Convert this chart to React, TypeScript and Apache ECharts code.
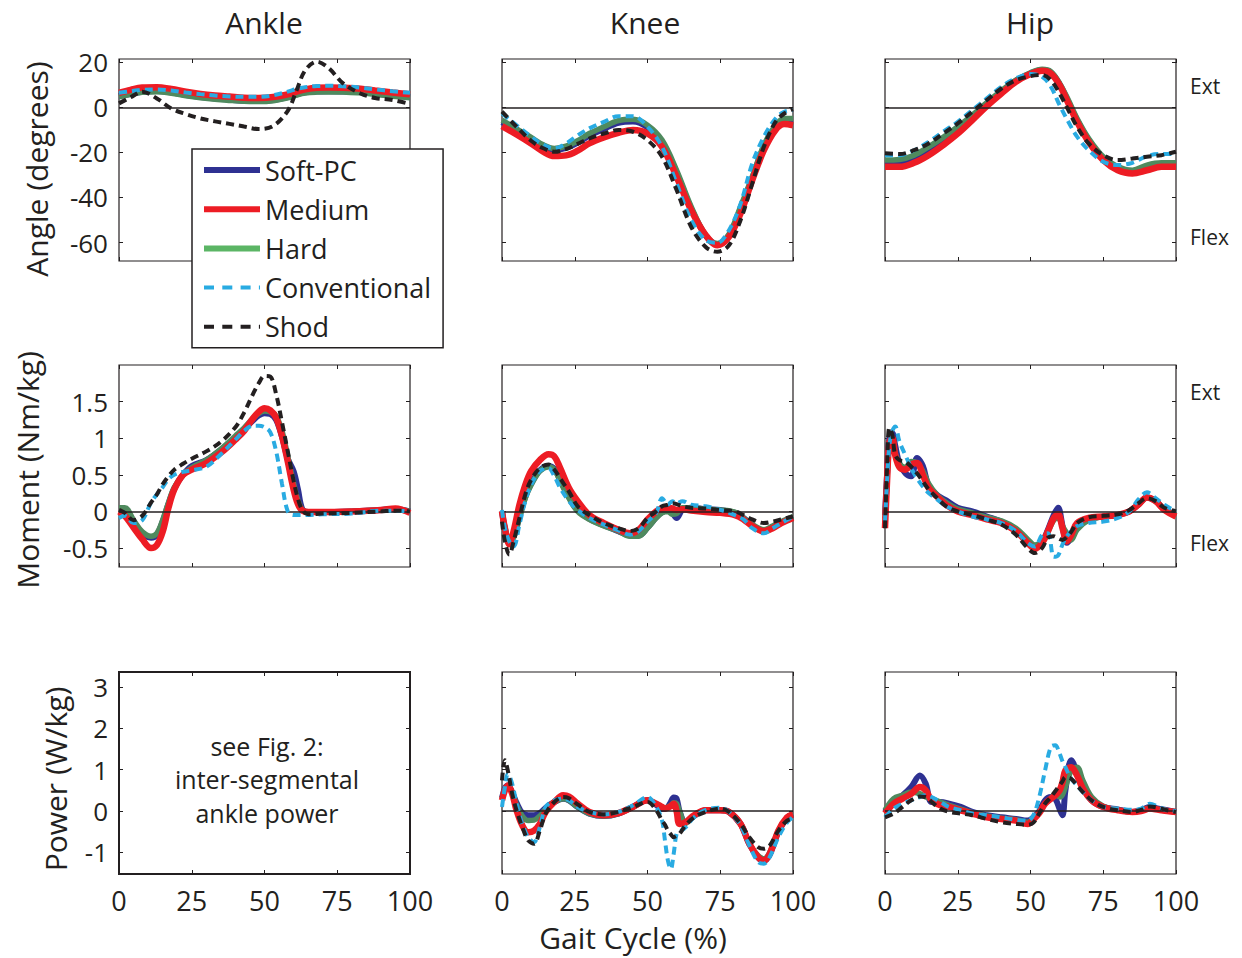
import React, { useEffect, useRef } from "react";
import * as echarts from "echarts";

const FONT = '"Open Sans", "Noto Sans", sans-serif';
const INK = "#231F20";

// ---------- Data ----------
// Ankle angle (deg)
const ankleAngleX = [0, 4, 8, 13, 18, 23, 28, 33, 38, 43, 48, 53, 58, 61, 64, 68, 72, 77, 83, 88, 94, 100];
const ankleAngleSoft = [5, 6, 7, 7.3, 6.6, 5.5, 4.6, 3.9, 3.4, 3, 2.9, 3.3, 4.6, 5.8, 6.7, 7.1, 7.2, 7.1, 6.8, 6.1, 5.3, 4.6];
const ankleAngleMedium = [6.5, 7.8, 8.8, 9, 8.2, 7, 6, 5.3, 4.8, 4.3, 4.2, 4.6, 5.8, 7, 8, 8.7, 8.8, 8.7, 8.3, 7.5, 6.6, 5.8];
const ankleAngleHard = [4.7, 5.8, 6.7, 7, 6.3, 5.2, 4.3, 3.6, 3.1, 2.7, 2.6, 3, 4.3, 5.5, 6.4, 6.8, 6.9, 6.8, 6.5, 5.8, 5, 4.3];
const ankleAngleConv = [6.5, 7.2, 7.8, 8, 7.5, 6.6, 5.9, 5.3, 4.9, 4.7, 4.7, 5.4, 7, 8.2, 9, 9.5, 9.6, 9.4, 8.8, 8, 7.2, 6.5];
const ankleAngleShod = [1.8, 4.5, 7, 4, -0.5, -3, -4.9, -6.2, -7.3, -8.5, -9.6, -8.2, -1.5, 7.5, 16.5, 20.3, 17.5, 10.7, 6.2, 4.2, 3.3, 1.5];

// Knee angle (deg)
const kneeAngleX = [0, 5, 10, 14, 18, 22, 26, 30, 35, 40, 45, 50, 55, 60, 65, 70, 74, 78, 82, 86, 90, 94, 97, 100];
const kneeAngleSoft = [-6.5, -10.2, -14, -17.2, -19, -18, -15.6, -12.5, -9.5, -6.8, -6.2, -8.8, -15.5, -29, -45, -57, -60.8, -56.8, -45, -31.5, -17.5, -8.7, -5.8, -5.8];
const kneeAngleMedium = [-8.3, -12, -16, -19.5, -21.6, -21.3, -19.2, -16, -13.3, -11.3, -10, -11.6, -17.5, -30.8, -45.6, -56.7, -61.2, -57.5, -47, -32.3, -19, -10, -7.4, -7.9];
const kneeAngleHard = [-5.6, -9.5, -13.3, -16.5, -18.2, -17.2, -14.8, -11.6, -8.6, -5.9, -5.3, -7.9, -14.5, -27.9, -44, -56.7, -60.4, -56.3, -44, -30.8, -16.7, -7.9, -4.9, -4.9];
const kneeAngleConv = [-2.7, -7.9, -13, -16.5, -18.2, -16, -12.4, -9.3, -6.4, -3.9, -3.9, -8.6, -17.5, -33.8, -50, -59, -60.1, -54.5, -42.7, -24.9, -13, -4.9, -1.9, -1.2];
const kneeAngleShod = [-1.9, -8.6, -14.8, -18, -19.7, -18.5, -16.2, -13.8, -11.6, -10, -10.8, -14.5, -21.9, -36.7, -53, -62, -64.1, -61.2, -50, -33.8, -17.5, -6.4, -2.7, -0.9];

// Hip angle (deg)
const hipAngleX = [0, 5, 10, 15, 20, 25, 30, 35, 40, 45, 50, 54, 57, 60, 63, 66, 70, 75, 80, 85, 90, 95, 100];
const hipAngleSoft = [-25, -24.8, -23, -19.4, -15, -10, -4.5, 1.3, 6.8, 11.8, 15.1, 16.6, 15.5, 10.3, 2.5, -5.6, -14.5, -22.6, -27.1, -28.6, -26.8, -25.5, -25.5];
const hipAngleMedium = [-26.4, -26.4, -24.6, -21.2, -16.7, -11.6, -5.6, 0.6, 6.2, 11.4, 14.8, 16.3, 15.1, 9.9, 1.8, -6.4, -15.3, -23.4, -27.9, -29.3, -27.9, -26.4, -26.4];
const hipAngleHard = [-23.4, -23.1, -21.2, -17.5, -13.3, -8.6, -3.4, 2.1, 7.4, 12.1, 15.4, 16.9, 15.9, 10.7, 3.3, -4.9, -13.8, -21.9, -26.4, -27.9, -25.6, -24.6, -24.6];
const hipAngleConv = [-21.2, -21.2, -19, -15.3, -10.8, -6.4, -1.2, 4, 9.2, 12.9, 14.8, 13.6, 9.2, 1, -6.4, -13, -19, -24.1, -25.6, -24.6, -21.6, -20.7, -20.7];
const hipAngleShod = [-20.4, -20.7, -19, -16, -11.6, -7.1, -1.9, 3.3, 8.4, 12.1, 13.9, 14.4, 12.1, 6.2, -1.2, -8.6, -16, -21.2, -23.4, -22.7, -21.9, -21.2, -19.7];

// Ankle moment (Nm/kg)
const ankleMomentX = [0, 2, 5, 8, 11, 13, 15, 17, 19, 22, 25, 30, 35, 40, 43, 46, 48, 50, 52, 54, 56, 58, 60, 61.5, 63, 65, 70, 80, 90, 95, 100];
const ankleMomentSoft = [0.02, 0.02, -0.14, -0.3, -0.36, -0.32, -0.14, 0.1, 0.31, 0.5, 0.62, 0.7, 0.84, 1.01, 1.12, 1.24, 1.31, 1.34, 1.33, 1.25, 1.02, 0.72, 0.55, 0.3, 0.03, -0.01, -0.01, 0, 0.02, 0.03, 0];
const ankleMomentMedium = [0, -0.06, -0.22, -0.38, -0.5, -0.46, -0.28, 0.05, 0.3, 0.5, 0.57, 0.66, 0.8, 0.98, 1.1, 1.27, 1.36, 1.41, 1.38, 1.28, 1.03, 0.68, 0.3, 0.1, 0.01, -0.01, -0.01, 0, 0.02, 0.04, -0.02];
const ankleMomentHard = [0.05, 0.05, -0.12, -0.28, -0.34, -0.3, -0.12, 0.12, 0.33, 0.5, 0.6, 0.7, 0.85, 1.03, 1.14, 1.27, 1.34, 1.37, 1.36, 1.3, 1.1, 0.75, 0.38, 0.15, 0.02, -0.01, -0.01, 0, 0.02, 0.03, 0];
const ankleMomentConv = [-0.09, -0.06, -0.16, -0.12, 0.12, 0.23, 0.33, 0.44, 0.5, 0.54, 0.56, 0.61, 0.78, 0.98, 1.1, 1.17, 1.17, 1.15, 1.08, 0.82, 0.38, 0, -0.05, -0.05, -0.05, -0.05, -0.04, -0.03, 0.01, 0.01, 0];
const ankleMomentShod = [0.02, -0.02, -0.12, -0.06, 0.12, 0.23, 0.37, 0.48, 0.57, 0.65, 0.72, 0.82, 0.95, 1.15, 1.35, 1.6, 1.75, 1.85, 1.84, 1.6, 1.22, 0.82, 0.42, 0.17, 0.02, -0.04, -0.03, -0.02, 0, 0.01, 0];

// Knee moment (Nm/kg)
const kneeMomentX = [0, 1, 2.5, 4, 6, 8, 10, 13, 16, 18, 20, 23, 26, 30, 35, 40, 44, 47, 50, 53, 55, 57, 58.5, 60, 62, 65, 70, 75, 80, 83, 86, 90, 93, 96, 100];
const kneeMomentSoft = [0, -0.23, -0.42, -0.34, -0.07, 0.2, 0.38, 0.56, 0.62, 0.58, 0.43, 0.2, 0.02, -0.1, -0.19, -0.27, -0.33, -0.33, -0.22, -0.08, -0.01, 0.02, -0.02, -0.09, 0.02, 0.05, 0.03, 0.02, -0.02, -0.09, -0.19, -0.27, -0.22, -0.15, -0.08];
const kneeMomentMedium = [0, -0.23, -0.45, -0.27, 0.09, 0.36, 0.55, 0.7, 0.78, 0.75, 0.59, 0.32, 0.14, -0.05, -0.16, -0.25, -0.3, -0.25, -0.11, 0, 0.04, 0.05, 0.04, 0.02, 0.03, 0.01, -0.01, -0.02, -0.05, -0.11, -0.2, -0.27, -0.23, -0.16, -0.09];
const kneeMomentHard = [0, -0.23, -0.41, -0.36, -0.09, 0.18, 0.36, 0.55, 0.61, 0.57, 0.41, 0.18, 0, -0.11, -0.2, -0.27, -0.34, -0.34, -0.23, -0.09, -0.02, 0, -0.04, -0.03, 0.05, 0.05, 0.03, 0.02, -0.01, -0.09, -0.18, -0.25, -0.2, -0.14, -0.07];
const kneeMomentConv = [0.02, -0.23, -0.41, -0.48, -0.18, 0.14, 0.36, 0.55, 0.59, 0.48, 0.32, 0.14, 0.02, -0.09, -0.18, -0.26, -0.32, -0.27, -0.14, -0.02, 0.18, 0.09, 0.14, 0.11, 0.14, 0.09, 0.07, 0.02, -0.05, -0.11, -0.23, -0.3, -0.23, -0.16, -0.07];
const kneeMomentShod = [-0.14, -0.41, -0.59, -0.41, -0.09, 0.23, 0.43, 0.59, 0.64, 0.57, 0.45, 0.27, 0.07, -0.05, -0.16, -0.23, -0.27, -0.23, -0.09, 0, 0.07, 0.09, 0.11, 0.1, 0.07, 0.05, 0.04, 0.02, 0, -0.05, -0.11, -0.16, -0.14, -0.11, -0.07];

// Hip moment (Nm/kg)
const hipMomentX = [0, 0.7, 1.5, 2.5, 3.5, 5, 7, 9, 11, 13, 15, 18, 21, 25, 30, 35, 40, 45, 49, 51.5, 54, 56, 58, 59.5, 61, 62.5, 64, 66, 70, 75, 80, 84, 87, 90, 93, 96, 100];
const hipMomentSoft = [-0.05, 0.5, 1.0, 1.07, 0.9, 0.65, 0.52, 0.48, 0.73, 0.62, 0.35, 0.22, 0.15, 0.05, 0, -0.07, -0.14, -0.25, -0.4, -0.48, -0.42, -0.25, -0.05, 0.05, -0.2, -0.43, -0.36, -0.2, -0.1, -0.07, -0.05, 0, 0.09, 0.19, 0.14, 0.03, -0.05];
const hipMomentMedium = [-0.23, 0.41, 0.95, 1.0, 0.77, 0.6, 0.57, 0.64, 0.66, 0.5, 0.32, 0.2, 0.09, 0, -0.05, -0.11, -0.16, -0.27, -0.43, -0.51, -0.43, -0.27, -0.09, -0.04, -0.23, -0.41, -0.32, -0.16, -0.09, -0.07, -0.05, 0, 0.09, 0.19, 0.14, 0.02, -0.07];
const hipMomentHard = [-0.1, 0.45, 0.95, 0.98, 0.8, 0.65, 0.6, 0.68, 0.66, 0.55, 0.38, 0.22, 0.12, 0.03, -0.02, -0.08, -0.13, -0.23, -0.38, -0.46, -0.42, -0.28, -0.12, -0.09, -0.2, -0.3, -0.39, -0.25, -0.12, -0.07, -0.05, 0, 0.09, 0.19, 0.14, 0.03, -0.05];
const hipMomentConv = [-0.14, 0.4, 0.9, 1.1, 1.16, 0.95, 0.77, 0.59, 0.45, 0.34, 0.25, 0.16, 0.07, 0, -0.07, -0.11, -0.16, -0.27, -0.43, -0.48, -0.32, -0.3, -0.62, -0.6, -0.45, -0.34, -0.27, -0.2, -0.16, -0.14, -0.09, 0, 0.16, 0.26, 0.18, 0.09, 0];
const hipMomentShod = [-0.23, 0.59, 1.14, 1.05, 0.77, 0.7, 0.68, 0.61, 0.52, 0.41, 0.3, 0.18, 0.07, 0, -0.05, -0.11, -0.18, -0.32, -0.5, -0.57, -0.5, -0.36, -0.34, -0.37, -0.39, -0.35, -0.28, -0.16, -0.08, -0.06, -0.04, 0.02, 0.11, 0.18, 0.14, 0.05, 0];

// Knee power (W/kg)
const kneePowerX = [0, 1, 2, 3.5, 5, 7, 9, 11, 13, 15, 18, 21, 23, 26, 30, 35, 40, 45, 50, 53, 55, 56, 57, 58, 59, 60, 61, 63, 66, 70, 75, 78, 82, 85, 88, 90, 92, 95, 98, 100];
const kneePowerSoft = [0.32, 0.55, 0.62, 0.45, 0.2, -0.05, -0.1, -0.1, -0.05, 0.08, 0.22, 0.3, 0.26, 0.1, -0.06, -0.12, -0.06, 0.1, 0.26, 0.15, 0.05, 0.05, 0.1, 0.22, 0.33, 0.3, 0, -0.28, -0.12, 0.02, 0.02, -0.02, -0.31, -0.8, -1.12, -1.2, -1.05, -0.5, -0.16, -0.08];
const kneePowerMedium = [0.26, 0.5, 0.62, 0.42, 0.02, -0.35, -0.51, -0.47, -0.31, -0.02, 0.22, 0.38, 0.35, 0.18, -0.02, -0.1, -0.05, 0.1, 0.26, 0.18, 0.1, 0.06, 0.08, 0.12, 0.18, 0, -0.31, -0.27, -0.1, 0.02, 0.02, -0.02, -0.31, -0.79, -1.11, -1.19, -1.03, -0.47, -0.15, -0.08];
const kneePowerHard = [0.3, 0.52, 0.6, 0.45, 0.15, -0.12, -0.23, -0.22, -0.12, 0.05, 0.22, 0.3, 0.26, 0.1, -0.06, -0.12, -0.06, 0.1, 0.26, 0.18, 0.1, 0.08, 0.1, 0.14, 0.2, 0.18, 0, -0.3, -0.12, 0.02, 0.02, -0.02, -0.31, -0.79, -1.08, -1.15, -1.0, -0.47, -0.15, -0.08];
const kneePowerConv = [0.1, 0.58, 0.9, 0.66, 0.18, -0.31, -0.63, -0.75, -0.39, 0.1, 0.26, 0.3, 0.26, 0.1, -0.02, -0.08, -0.02, 0.14, 0.34, 0.1, -0.23, -0.71, -1.19, -1.4, -1.03, -0.55, -0.5, -0.4, -0.15, 0.03, 0.08, -0.02, -0.35, -0.83, -1.23, -1.27, -1.11, -0.63, -0.27, -0.15];
const kneePowerShod = [0.74, 1.23, 0.98, 0.42, 0.02, -0.39, -0.71, -0.79, -0.47, -0.06, 0.22, 0.34, 0.31, 0.16, -0.02, -0.08, -0.02, 0.1, 0.22, 0.02, -0.23, -0.33, -0.47, -0.56, -0.63, -0.6, -0.55, -0.35, -0.15, -0.02, 0.06, -0.02, -0.31, -0.63, -0.87, -0.91, -0.83, -0.47, -0.23, -0.19];

// Hip power (W/kg)
const hipPowerX = [0, 3, 6, 9, 12, 14, 16, 19, 22, 26, 30, 35, 40, 45, 49, 51, 53, 55, 57, 58.5, 60, 61, 62, 64, 66, 68, 71, 75, 80, 85, 88, 91, 94, 97, 100];
const hipPowerSoft = [-0.02, 0.26, 0.38, 0.58, 0.86, 0.66, 0.22, 0.22, 0.18, 0.1, -0.02, -0.1, -0.15, -0.19, -0.23, -0.15, 0, 0.26, 0.34, 0.3, 0.05, -0.1, 0.5, 1.23, 0.94, 0.58, 0.26, 0.1, 0.04, -0.02, 0.02, 0.1, 0.06, 0.02, -0.02];
const hipPowerMedium = [-0.06, 0.18, 0.3, 0.42, 0.58, 0.5, 0.26, 0.14, 0.1, 0.02, -0.06, -0.15, -0.19, -0.23, -0.31, -0.2, -0.05, 0.18, 0.3, 0.38, 0.5, 0.7, 0.98, 1.06, 0.86, 0.54, 0.26, 0.1, 0.02, -0.02, 0, 0.06, 0.03, 0, -0.02];
const hipPowerHard = [0.02, 0.3, 0.38, 0.46, 0.42, 0.34, 0.3, 0.22, 0.14, 0.05, -0.04, -0.12, -0.17, -0.21, -0.27, -0.18, -0.02, 0.18, 0.3, 0.42, 0.34, 0.4, 0.58, 0.98, 1.06, 0.74, 0.34, 0.12, 0.03, -0.02, 0.01, 0.08, 0.04, 0.01, -0.02];
const hipPowerConv = [-0.15, 0.06, 0.18, 0.26, 0.34, 0.38, 0.34, 0.22, 0.1, 0.02, -0.06, -0.1, -0.15, -0.21, -0.23, -0.1, 0.34, 0.98, 1.55, 1.59, 1.39, 1.2, 1.06, 0.78, 0.62, 0.46, 0.26, 0.1, 0.06, 0.03, 0.06, 0.18, 0.1, 0.02, 0];
const hipPowerShod = [-0.15, -0.06, 0.1, 0.26, 0.35, 0.34, 0.22, 0.06, -0.02, -0.06, -0.1, -0.19, -0.27, -0.31, -0.33, -0.28, -0.06, 0.18, 0.34, 0.48, 0.62, 0.72, 0.82, 0.78, 0.62, 0.46, 0.26, 0.1, 0.02, -0.02, 0.03, 0.11, 0.08, 0.02, -0.02];

// Axis ticks and labels
const xTicks = [0, 25, 50, 75, 100];
const angleTicks = [-60, -40, -20, 0, 20];
const momentTicks = [-0.5, 0, 0.5, 1, 1.5];
const powerTicks = [-1, 0, 1, 2, 3];
const columnTitles = ["Ankle", "Knee", "Hip"];
const rowNames = ["Angle (degrees)", "Moment (Nm/kg)", "Power (W/kg)"];
const seriesNames = ["Soft-PC", "Medium", "Hard", "Conventional", "Shod"];

// ---------- Layout / style ----------
const colLeft = [119, 502, 885];
const rowTop = [59, 365, 672];
const PW = 291;
const PH = 202;
const yRanges = [
  [-68.2, 21.5],
  [-0.76, 2.0],
  [-1.52, 3.36],
];
const rowTicks = [angleTicks, momentTicks, powerTicks];

const STYLE: Record<string, any> = {
  "Soft-PC": { color: "#2E3192", width: 6, type: "solid", z: 2 },
  Hard: { color: "#4F8A5E", width: 5.5, type: "solid", z: 3 },
  Medium: { color: "#ED1C24", width: 6.5, type: "solid", z: 4 },
  Conventional: { color: "#29ABE2", width: 4, type: [8, 5], z: 5 },
  Shod: { color: INK, width: 4, type: [8, 5], z: 6 },
};

const panels = [
  { row: 0, col: 0, x: ankleAngleX, d: { "Soft-PC": ankleAngleSoft, Medium: ankleAngleMedium, Hard: ankleAngleHard, Conventional: ankleAngleConv, Shod: ankleAngleShod } },
  { row: 0, col: 1, x: kneeAngleX, d: { "Soft-PC": kneeAngleSoft, Medium: kneeAngleMedium, Hard: kneeAngleHard, Conventional: kneeAngleConv, Shod: kneeAngleShod } },
  { row: 0, col: 2, x: hipAngleX, d: { "Soft-PC": hipAngleSoft, Medium: hipAngleMedium, Hard: hipAngleHard, Conventional: hipAngleConv, Shod: hipAngleShod } },
  { row: 1, col: 0, x: ankleMomentX, d: { "Soft-PC": ankleMomentSoft, Medium: ankleMomentMedium, Hard: ankleMomentHard, Conventional: ankleMomentConv, Shod: ankleMomentShod } },
  { row: 1, col: 1, x: kneeMomentX, d: { "Soft-PC": kneeMomentSoft, Medium: kneeMomentMedium, Hard: kneeMomentHard, Conventional: kneeMomentConv, Shod: kneeMomentShod } },
  { row: 1, col: 2, x: hipMomentX, d: { "Soft-PC": hipMomentSoft, Medium: hipMomentMedium, Hard: hipMomentHard, Conventional: hipMomentConv, Shod: hipMomentShod } },
  { row: 2, col: 1, x: kneePowerX, d: { "Soft-PC": kneePowerSoft, Medium: kneePowerMedium, Hard: kneePowerHard, Conventional: kneePowerConv, Shod: kneePowerShod } },
  { row: 2, col: 2, x: hipPowerX, d: { "Soft-PC": hipPowerSoft, Medium: hipPowerMedium, Hard: hipPowerHard, Conventional: hipPowerConv, Shod: hipPowerShod } },
];

function buildOption() {
  const grids: any[] = [];
  const xAxes: any[] = [];
  const yAxes: any[] = [];
  const mirrorX: any[] = [];
  const mirrorY: any[] = [];
  for (let r = 0; r < 3; r++) {
    for (let c = 0; c < 3; c++) {
      const g = r * 3 + c;
      grids.push({
        left: colLeft[c],
        top: rowTop[r],
        width: PW,
        height: PH,
        show: true,
        borderColor: INK,
        borderWidth: r === 2 && c === 0 ? 2 : 1.2,
        backgroundColor: "transparent",
        containLabel: false,
      });
      const xBase = {
        gridIndex: g,
        type: "value",
        min: 0,
        max: 100,
        interval: 25,
        axisLine: { show: false, onZero: false },
        splitLine: { show: false },
        axisTick: { show: true, inside: true, length: 4, lineStyle: { color: INK, width: 1 } },
      };
      xAxes.push({
        ...xBase,
        position: "bottom",
        axisLabel: {
          show: r === 2,
          color: INK,
          fontSize: 27,
          fontFamily: FONT,
          margin: 13,
          customValues: xTicks,
        },
      });
      mirrorX.push({ ...xBase, position: "top", axisLabel: { show: false } });
      const yBase = {
        gridIndex: g,
        type: "value",
        min: yRanges[r][0],
        max: yRanges[r][1],
        axisLine: { show: false, onZero: false },
        splitLine: { show: false },
        axisTick: {
          show: true,
          inside: true,
          length: 4,
          customValues: rowTicks[r],
          lineStyle: { color: INK, width: 1 },
        },
      };
      yAxes.push({
        ...yBase,
        position: "left",
        axisLabel: {
          show: c === 0,
          color: INK,
          fontSize: 26,
          fontFamily: FONT,
          margin: 11,
          customValues: rowTicks[r],
        },
      });
      mirrorY.push({ ...yBase, position: "right", axisLabel: { show: false } });
    }
  }

  const drawOrder = ["Soft-PC", "Hard", "Medium", "Conventional", "Shod"];
  const series: any[] = [];
  panels.forEach((p) => {
    const g = p.row * 3 + p.col;
    drawOrder.forEach((name, k) => {
      const s = STYLE[name];
      const ys = (p.d as any)[name] as number[];
      const item: any = {
        type: "line",
        name,
        xAxisIndex: g,
        yAxisIndex: g,
        data: p.x.map((xv, i) => [xv, ys[i]]),
        symbol: "none",
        showSymbol: false,
        smooth: 0.35,
        silent: true,
        z: s.z,
        itemStyle: { color: s.color },
        lineStyle: { color: s.color, width: s.width, type: s.type, cap: "butt" },
        emphasis: { disabled: true },
      };
      if (k === 0) {
        item.markLine = {
          silent: true,
          symbol: ["none", "none"],
          label: { show: false },
          lineStyle: { color: INK, width: 1.5, type: "solid" },
          emphasis: { disabled: true },
          data: [{ yAxis: 0 }],
        };
      }
      series.push(item);
    });
  });

  const text = (t: string, x: number, y: number, size: number, extra: any = {}) => ({
    type: "text",
    x,
    y,
    silent: true,
    ...extra,
    style: {
      text: t,
      fill: INK,
      font: `${size}px ${FONT}`,
      align: "center",
      verticalAlign: "middle",
      ...(extra.style || {}),
    },
  });

  const graphics: any[] = [
    text(columnTitles[0], 264, 22, 30),
    text(columnTitles[1], 645, 22, 30),
    text(columnTitles[2], 1030, 22, 30),
    text(rowNames[0], 36, 169, 30, { rotation: Math.PI / 2 }),
    text(rowNames[1], 27, 470, 30, { rotation: Math.PI / 2 }),
    text(rowNames[2], 55, 779, 30, { rotation: Math.PI / 2 }),
    text("Gait Cycle (%)", 633, 937, 30),
    text("Ext", 1190, 86, 21, { style: { align: "left" } }),
    text("Flex", 1190, 237, 21, { style: { align: "left" } }),
    text("Ext", 1190, 392, 21, { style: { align: "left" } }),
    text("Flex", 1190, 543, 21, { style: { align: "left" } }),
    text("see Fig. 2:\ninter-segmental\nankle power", 267, 779, 25, { style: { lineHeight: 33.5 } }),
  ];

  const legendHide = { opacity: 0, borderWidth: 0 };

  return {
    animation: false,
    backgroundColor: "#ffffff",
    textStyle: { fontFamily: FONT },
    grid: grids,
    xAxis: [...xAxes, ...mirrorX],
    yAxis: [...yAxes, ...mirrorY],
    legend: {
      show: true,
      left: 192,
      top: 149,
      orient: "vertical",
      selectedMode: false,
      backgroundColor: "#ffffff",
      borderColor: INK,
      borderWidth: 1.5,
      borderRadius: 0,
      padding: [7, 12, 7, 9],
      itemWidth: 56,
      itemHeight: 14,
      itemGap: 11.2,
      z: 20,
      textStyle: { fontSize: 27, lineHeight: 28, color: INK, fontFamily: FONT },
      data: [
        { name: seriesNames[0], lineStyle: { color: "#2E3192", width: 6, type: "solid" }, itemStyle: legendHide },
        { name: seriesNames[1], lineStyle: { color: "#ED1C24", width: 6, type: "solid" }, itemStyle: legendHide },
        { name: seriesNames[2], lineStyle: { color: "#5BB565", width: 6, type: "solid" }, itemStyle: legendHide },
        { name: seriesNames[3], lineStyle: { color: "#29ABE2", width: 4, type: [10, 8.3] }, itemStyle: legendHide },
        { name: seriesNames[4], lineStyle: { color: INK, width: 4, type: [10, 8.3] }, itemStyle: legendHide },
      ],
    },
    graphic: graphics,
    series,
  };
}

export default function App() {
  const ref = useRef<HTMLDivElement>(null);
  useEffect(() => {
    if (!ref.current) return;
    const chart = echarts.init(ref.current, undefined, { renderer: "svg" });
    chart.setOption(buildOption() as any);
    return () => chart.dispose();
  }, []);
  return (
    <div
      ref={ref}
      style={{ position: "fixed", left: 0, top: 0, width: 1242, height: 958, background: "#fff" }}
    />
  );
}
